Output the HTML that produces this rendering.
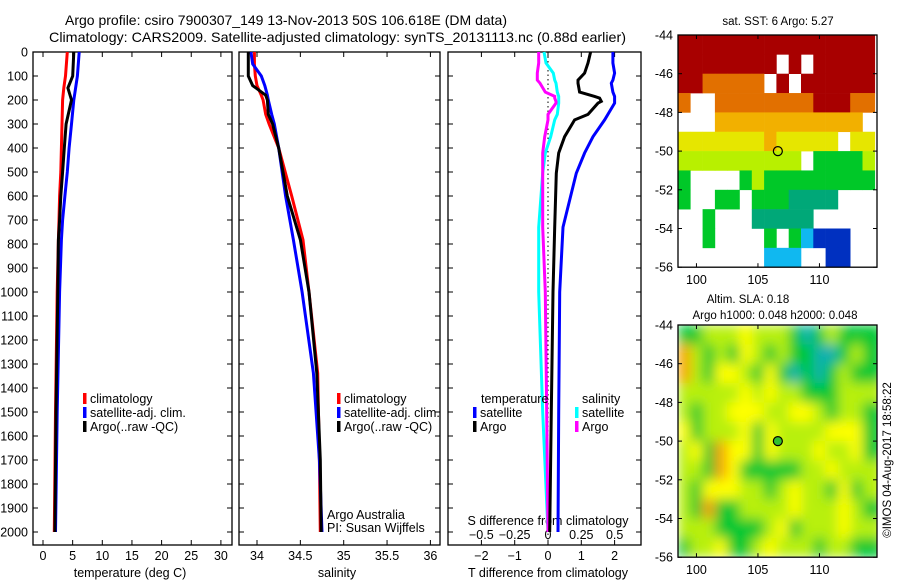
<!DOCTYPE html>
<html><head><meta charset="utf-8"><style>
body{margin:0;background:#fff;}
svg{display:block;font-family:"Liberation Sans",sans-serif;}
</style></head><body>
<svg id="c" width="900" height="580" xmlns="http://www.w3.org/2000/svg">
<defs>
<filter id="blur" x="0" y="0" width="1" height="1"><feGaussianBlur stdDeviation="6" edgeMode="duplicate"/></filter>
<clipPath id="slaclip"><rect x="678" y="325" width="199" height="232"/></clipPath>
</defs>
<text x="65" y="25" font-size="14" textLength="442" lengthAdjust="spacingAndGlyphs">Argo profile: csiro 7900307_149 13-Nov-2013 50S 106.618E (DM data)</text>
<text x="49" y="42" font-size="14" textLength="577" lengthAdjust="spacingAndGlyphs">Climatology: CARS2009. Satellite-adjusted climatology: synTS_20131113.nc (0.88d earlier)</text>
<text x="778" y="25" text-anchor="middle" font-size="11.5">sat. SST: 6 Argo: 5.27</text>
<text x="748" y="303" text-anchor="middle" font-size="11.5">Altim. SLA: 0.18</text>
<text x="775" y="319" text-anchor="middle" font-size="11.5">Argo h1000: 0.048 h2000: 0.048</text>
<text transform="translate(891,460) rotate(-90)" text-anchor="middle" font-size="11.5">©IMOS 04-Aug-2017 18:58:22</text>
<g id="g"></g>
</svg>
<script>
// ---- depth profiles (depth in m) ----
const depthT = [0,100,150,200,300,400,500,600,700,783,1000,1500,2000];
const tempClim = [4.1,3.8,3.5,3.3,3.2,3.1,3.0,2.8,2.7,2.6,2.4,2.1,1.9];
const tempSat  = [6.1,5.8,5.5,5.2,4.8,4.4,4.1,3.7,3.3,3.1,2.8,2.4,2.1];
const tempArgo = [5.2,5.0,4.2,4.8,3.9,3.6,3.3,3.0,2.8,2.6,2.5,2.2,2.0];
const depthS = [0,50,100,140,180,200,260,300,400,600,783,1000,1338,1700,2000];
const salClim = [33.97,33.97,33.98,34.0,34.05,34.07,34.1,34.14,34.25,34.4,34.53,34.6,34.7,34.72,34.73];
const salSat  = [33.93,33.95,34.05,34.09,34.12,34.13,34.17,34.2,34.25,34.33,34.42,34.52,34.65,34.72,34.75];
const salArgo = [33.9,33.9,33.9,33.95,34.1,34.12,34.13,34.18,34.25,34.35,34.5,34.6,34.69,34.73,34.74];
const depthD = [0,46,88,117,130,167,185,192,206,213,260,283,353,421,505,730,1000,1500,2000];
const tDiffSat  = [1.95,1.95,2.0,1.95,1.9,1.95,2.0,2.0,2.0,2.0,1.8,1.7,1.35,1.1,0.85,0.45,0.35,0.32,0.3];
const tDiffArgo = [1.28,1.2,1.1,0.9,0.9,0.95,1.4,1.55,1.6,1.5,1.2,0.8,0.5,0.32,0.25,0.2,0.15,0.1,0.05];
const sDiffSat  = [-0.03,-0.015,0.04,0.05,0.06,0.07,0.08,0.08,0.08,0.08,0.07,0.05,0.02,-0.02,-0.04,-0.07,-0.07,-0.04,0];
const sDiffArgo = [-0.07,-0.07,-0.08,-0.08,-0.06,-0.02,0.05,0.05,0.06,0.06,0.0,0.0,-0.025,-0.04,-0.04,-0.04,-0.02,-0.01,0];
const depthTicks = [0,100,200,300,400,500,600,700,800,900,1000,1100,1200,1300,1400,1500,1600,1700,1800,1900,2000];
const tempTicks = [0,5,10,15,20,25,30];
const salTicks = [34,34.5,35,35.5,36];
const tDiffTicks = [-2,-1,0,1,2];
const sDiffTicks = [-0.5,-0.25,0,0.25,0.5];
// ---- maps: rows from -44 southward, cols from lon 98.5 eastward, 1 deg cells ('.' = no data) ----
const sstRows = [
"9999999999999999",
"99999999.9.99999",
"9988888.9.999999",
"8..8888888899988",
"...777777777777.",
"6666666766666.66",
"5555555555.44445",
"4....45444444444",
"4..44.4443333...",
"..4...33333.....",
"..4....4.42111..",
".......222..11.."];
const slaRows = [
"1122232221012111",
"4212132121100121",
"4213321310101211",
"2222232322111222",
"2122333223321221",
"3122231322223331",
"2314331322232231",
"2214311111223222",
"2133322123221312",
"2141122223222321",
"2221111231222322",
"1223112322212211"];
const mapLatTicks = [-44,-46,-48,-50,-52,-54,-56];
const mapLonTicks = [100,105,110];
const argoLon = 106.618, argoLat = -50;

const NS="http://www.w3.org/2000/svg";
const G=document.getElementById('g');
function mk(tag,attrs,parent){const e=document.createElementNS(NS,tag);for(const k in attrs)e.setAttribute(k,attrs[k]);(parent||G).appendChild(e);return e;}
const Y0=52, YS=0.24, YB=545;
const yD=d=>Y0+d*YS;
const xT=v=>43+v*5.93;
const xS=v=>257+(v-34)*86.7;
const xTD=v=>548+v*33.3;
const xSD=v=>548+v*133.3;

function frame(x0,x1,name){const r=mk('rect',{x:x0,y:Y0,width:x1-x0,height:YB-Y0,fill:'none',stroke:'#000','stroke-width':1.3});


for(const d of depthTicks){const y=yD(d);
const t1=mk('line',{x1:x0,x2:x0+5,y1:y,y2:y,stroke:'#000'});
const t2=mk('line',{x1:x1-5,x2:x1,y1:y,y2:y,stroke:'#000'});}}
function xticks(vals,fx,lbly,name){for(const v of vals){const x=fx(v);
const a=mk('line',{x1:x,x2:x,y1:YB-5,y2:YB,stroke:'#000'});
const b=mk('line',{x1:x,x2:x,y1:Y0,y2:Y0+5,stroke:'#000'});
const t=mk('text',{x:x,y:lbly,'text-anchor':'middle','font-size':12.5});t.textContent=(v<0?'\u2212'+(-v):String(v));}}
function line(ds,vs,fx,color,w,name){const pts=ds.map((d,i)=>fx(vs[i]).toFixed(1)+','+yD(d).toFixed(1)).join(' ');
const p=mk('polyline',{points:pts,fill:'none',stroke:color,'stroke-width':w,'stroke-linejoin':'miter'});}
function txt(x,y,s,name,size,anchor){const t=mk('text',{x:x,y:y,'font-size':size||12.5,'text-anchor':anchor||'start'});t.textContent=s;return t;}
function leg(x,y,color,s,name){const r=mk('rect',{x:x,y:y-10,width:3.5,height:11,fill:color});txt(x+7,y,s,name,12.5);}

// panel 1 temperature
frame(33,232,'temperature-panel');
for(const d of depthTicks){txt(28,yD(d)+4.5,String(d),'depth-tick-label',12.5,'end');}
xticks(tempTicks,xT,560,'temperature-axis');
txt(130,577,'temperature (deg C)','temperature-axis-title',12.5,'middle');
line(depthT,tempClim,xT,'#f00',3,'temperature-climatology-line');
line(depthT,tempSat,xT,'#00f',3,'temperature-satellite-line');
line(depthT,tempArgo,xT,'#000',3,'temperature-argo-line');
leg(83,403,'#f00','climatology','legend-climatology');
leg(83,417,'#00f','satellite-adj. clim.','legend-satellite');
leg(83,431,'#000','Argo(..raw -QC)','legend-argo');

// panel 2 salinity
frame(239,440,'salinity-panel');
xticks(salTicks,xS,560,'salinity-axis');
txt(337,577,'salinity','salinity-axis-title',12.5,'middle');
line(depthS,salClim,xS,'#f00',3,'salinity-climatology-line');
line(depthS,salSat,xS,'#00f',3,'salinity-satellite-line');
line(depthS,salArgo,xS,'#000',3,'salinity-argo-line');
leg(337,403,'#f00','climatology','legend-climatology');
leg(337,417,'#00f','satellite-adj. clim.','legend-satellite');
leg(337,431,'#000','Argo(..raw -QC)','legend-argo');
txt(327,519,'Argo Australia','argo-australia-label',12.5);
txt(327,532,'PI: Susan Wijffels','pi-label',12.5);

// panel 3 differences
frame(448,641,'difference-panel');
const zl=mk('line',{x1:xTD(0),x2:xTD(0),y1:Y0,y2:YB,stroke:'#000','stroke-dasharray':'1.5,3'});

xticks(tDiffTicks,xTD,560,'t-diff-axis');
for(const v of sDiffTicks){txt(xSD(v),539,(v<0?'\u2212'+(-v):String(v)),'s-diff-tick-label',12.5,'middle');}
txt(548,525,'S difference from climatology','s-diff-axis-title',12.5,'middle');
txt(548,577,'T difference from climatology','t-diff-axis-title',12.5,'middle');
line(depthD,sDiffSat,xSD,'#0ff',3,'salinity-diff-satellite-line');
line(depthD,sDiffArgo,xSD,'#f0f',3,'salinity-diff-argo-line');
line(depthD,tDiffArgo,xTD,'#000',3,'temperature-diff-argo-line');
line(depthD,tDiffSat,xTD,'#00f',3,'temperature-diff-satellite-line');
txt(481,403,'temperature','legend-temperature-heading',12.5);
leg(473,417,'#00f','satellite','legend-t-satellite');
leg(473,431,'#000','Argo','legend-t-argo');
txt(582,403,'salinity','legend-salinity-heading',12.5);
leg(575,417,'#0ff','satellite','legend-s-satellite');
leg(575,431,'#f0f','Argo','legend-s-argo');

// maps
const MX0=678, MX1=877, LON0=98.5, LONS=12.3, LATS=19.35;
const sstCol={'9':'#a80000','8':'#e27000','7':'#f2b000','6':'#e6e600','5':'#b8f000','4':'#00c828','3':'#00a878','2':'#10b8f0','1':'#0030c0'};
const slaCol={'0':'#10b0b0','1':'#00c830','2':'#b8f010','3':'#ffff00','4':'#f8a000','5':'#d06000'};
function mapFrame(top,name){const bot=top+12*LATS;
const r=mk('rect',{x:MX0,y:top,width:MX1-MX0,height:bot-top,fill:'none',stroke:'#000','stroke-width':1.3});
for(const la of mapLatTicks){const y=top+(-44-la)*LATS;
txt(MX0-5,y+4.5,String(la),'map-lat-label',12.5,'end');
const a=mk('line',{x1:MX0,x2:MX0+4,y1:y,y2:y,stroke:'#000'});
const b=mk('line',{x1:MX1-4,x2:MX1,y1:y,y2:y,stroke:'#000'});}
for(const lo of mapLonTicks){const x=MX0+(lo-LON0)*LONS;
txt(x,bot+17,String(lo),'map-lon-label',12.5,'middle');
const a=mk('line',{x1:x,x2:x,y1:bot-4,y2:bot,stroke:'#000'});
const b=mk('line',{x1:x,x2:x,y1:top,y2:top+4,stroke:'#000'});}
const c=mk('circle',{cx:MX0+(argoLon-LON0)*LONS,cy:top+(-44-argoLat)*LATS,r:4.5,fill:'none',stroke:'#000','stroke-width':1.2});
}
// SST cells
for(let r=0;r<sstRows.length;r++)for(let c=0;c<sstRows[r].length;c++){const ch=sstRows[r][c];if(ch==='.')continue;
const x=MX0+c*LONS, w=Math.min(LONS,MX1-x);
const e=mk('rect',{x:x,y:35+r*LATS,width:w+0.3,height:LATS+0.3,fill:sstCol[ch]});

}
mapFrame(35,'sst-map');
// SLA cells (blurred)
const sg=mk('g',{'clip-path':'url(#slaclip)'});const sb=mk('g',{filter:'url(#blur)'},sg);
for(let r=0;r<slaRows.length;r++)for(let c=0;c<slaRows[r].length;c++){const ch=slaRows[r][c];
const x=MX0+c*LONS, w=Math.min(LONS,MX1-x);
const e=mk('rect',{x:x,y:325+r*LATS,width:(c===slaRows[r].length-1?LONS+8:w+0.3),height:LATS+0.3,fill:slaCol[ch]},sb);

}
mapFrame(325,'sla-map');
const cf=mk('circle',{cx:MX0+(argoLon-LON0)*LONS,cy:325+6*LATS,r:4,fill:'#30c030'});

G.appendChild(G.querySelectorAll('circle')[1]);
</script>
</body></html>
